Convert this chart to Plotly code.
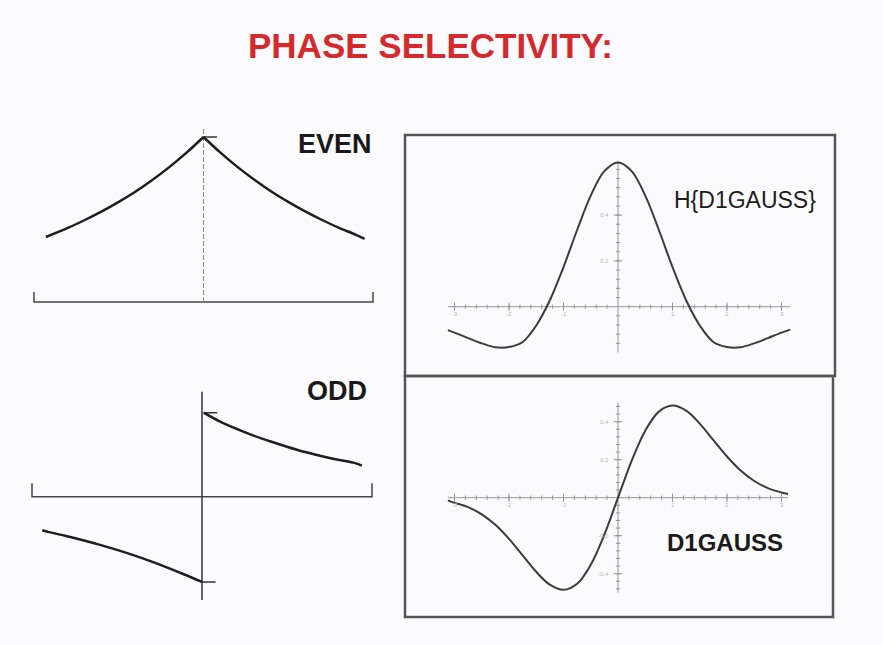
import numpy as np
import plotly.graph_objects as go

W, H = 883, 645

# ---------------- data ----------------
# EVEN: symmetric exponential decay (x normalised to [-1, 1], peak = 1)
even_left_x = [-0.93, -0.8, -0.7, -0.6, -0.5, -0.4, -0.3, -0.2, -0.1, 0.0]
even_left_y = [0.394, 0.449, 0.497, 0.549, 0.607, 0.670, 0.741, 0.819, 0.905, 1.0]
even_right_x = [0.0, 0.1, 0.2, 0.3, 0.4, 0.5, 0.6, 0.7, 0.8, 0.9, 0.95]
even_right_y = [1.0, 0.905, 0.819, 0.741, 0.670, 0.607, 0.549, 0.497, 0.449, 0.407, 0.382]

# ODD: antisymmetric exponential decay
odd_left_x = [-0.94, -0.9, -0.8, -0.7, -0.6, -0.5, -0.4, -0.3, -0.2, -0.1, 0.0]
odd_left_y = [-0.40, -0.422, -0.468, -0.518, -0.573, -0.633, -0.698, -0.769, -0.847, -0.929, -1.015]
odd_right_x = [0.01, 0.1, 0.2, 0.3, 0.4, 0.5, 0.6, 0.7, 0.8, 0.9, 0.94]
odd_right_y = [1.0, 0.90, 0.81, 0.73, 0.66, 0.595, 0.535, 0.485, 0.44, 0.40, 0.37]

# H{D1GAUSS}
hg_x = [-3.12, -3.0, -2.75, -2.5, -2.25, -2.0, -1.75, -1.5, -1.25, -1.0, -0.75, -0.5, -0.25,
        0.0, 0.25, 0.5, 0.75, 1.0, 1.25, 1.5, 1.75, 2.0, 2.25, 2.5, 2.75, 3.0, 3.16]
hg_y = [-0.102, -0.113, -0.137, -0.160, -0.177, -0.176, -0.154, -0.082, 0.028, 0.173, 0.335, 0.485, 0.592,
        0.630, 0.592, 0.485, 0.335, 0.173, 0.028, -0.082, -0.154, -0.176, -0.177, -0.160, -0.137, -0.113, -0.100]

# D1GAUSS
dg_x = [-3.12, -3.0, -2.75, -2.5, -2.25, -2.0, -1.75, -1.5, -1.25, -1.0, -0.75, -0.5, -0.25,
        0.0, 0.25, 0.5, 0.75, 1.0, 1.25, 1.5, 1.75, 2.0, 2.25, 2.5, 2.75, 3.0, 3.12]
dg_y = [-0.014, -0.027, -0.050, -0.088, -0.143, -0.217, -0.303, -0.390, -0.458, -0.485, -0.453, -0.353, -0.194,
        0.0, 0.194, 0.353, 0.453, 0.485, 0.458, 0.390, 0.303, 0.217, 0.143, 0.088, 0.050, 0.027, 0.019]

x_tick_labels = ["-3", "-2", "-1", "", "1", "2", "3"]
x_tick_vals = [-3, -2, -1, 0, 1, 2, 3]
hg_ylab_vals = [0.2, 0.4]
dg_ylab_vals = [-0.4, -0.2, 0.2, 0.4]

# ---------------- layout helpers ----------------
def xdom(c, s, rng):
    return [(c + rng[0] * s) / W, (c + rng[1] * s) / W]

def ydom(c, s, rng):
    return [1 - (c - rng[0] * s) / H, 1 - (c - rng[1] * s) / H]

panels = {
    1: dict(xc=203.5, xs=169.5, xr=[-1.15, 1.15], yc=302, ys=165, yr=[-0.15, 1.2]),
    2: dict(xc=202, xs=170, xr=[-1.15, 1.15], yc=496.7, ys=84, yr=[-1.45, 1.45]),
    3: dict(xc=618, xs=54.5, xr=[-3.5, 3.5], yc=306.7, ys=229, yr=[-0.25, 0.72]),
    4: dict(xc=618, xs=54.5, xr=[-3.5, 3.5], yc=497.7, ys=190, yr=[-0.55, 0.58]),
}

fig = go.Figure()
BLACK = "#1e1e1e"
CURVE = "#3c3c3c"
AXG = "#959595"

def ax(i):
    return ("x" if i == 1 else f"x{i}"), ("y" if i == 1 else f"y{i}")

def line(i, xs, ys, color, width, dash="solid", shape="linear"):
    xa, ya = ax(i)
    fig.add_trace(go.Scatter(x=xs, y=ys, mode="lines", xaxis=xa, yaxis=ya,
                             line=dict(color=color, width=width, dash=dash, shape=shape),
                             hoverinfo="skip", showlegend=False))

def ticks(i, xs, ys, symbol, size, color=AXG):
    xa, ya = ax(i)
    fig.add_trace(go.Scatter(x=xs, y=ys, mode="markers", xaxis=xa, yaxis=ya,
                             marker=dict(symbol=symbol, size=size,
                                         line=dict(color=color, width=1)),
                             hoverinfo="skip", showlegend=False))

# ---- EVEN panel ----
line(1, [-1, -1, 1, 1], [0.06, 0, 0, 0.06], "#444", 1.5)
line(1, [0, 0], [0, 1.055], "#8c8c8c", 1, dash="5px,2px")
line(1, [0, 0.08], [1.0, 1.0], "#333", 1.5)
line(1, even_left_x, even_left_y, BLACK, 2.5, shape="spline")
line(1, even_right_x, even_right_y, BLACK, 2.5, shape="spline")

# ---- ODD panel ----
line(2, [-1, -1, 1, 1], [0.16, 0, 0, 0.16], "#444", 1.5)
line(2, [0, 0], [-1.23, 1.25], "#333", 1.5)
line(2, [0.01, 0.09], [1.0, 1.0], "#333", 1.5)
line(2, [0, 0.08], [-1.015, -1.015], "#333", 1.5)
line(2, odd_left_x, odd_left_y, BLACK, 2.5, shape="spline")
line(2, odd_right_x, odd_right_y, BLACK, 2.5, shape="spline")

# ---- H{D1GAUSS} panel ----
line(3, [-3.12, 3.16], [0, 0], AXG, 1)
line(3, [0, 0], [-0.2, 0.635], AXG, 1)
minor_x = [round(v, 2) for v in np.arange(-3.0, 3.01, 0.2) if abs(v) > 1e-6]
ticks(3, minor_x, [0] * len(minor_x), "line-ns", 3)
ticks(3, [v for v in x_tick_vals if v != 0], [0] * 6, "line-ns", 6)
vy3 = [round(v, 2) for v in np.arange(-0.16, 0.62, 0.04) if abs(v) > 1e-6]
ticks(3, [0] * len(vy3), vy3, "line-ew", 3)
ticks(3, [0, 0], hg_ylab_vals, "line-ew", 6)
line(3, hg_x, hg_y, CURVE, 2, shape="spline")

# ---- D1GAUSS panel ----
line(4, [-3.12, 3.12], [0, 0], AXG, 1)
line(4, [0, 0], [-0.5, 0.5], AXG, 1)
ticks(4, minor_x, [0] * len(minor_x), "line-ns", 3)
ticks(4, [v for v in x_tick_vals if v != 0], [0] * 6, "line-ns", 6)
vy4 = [round(v, 2) for v in np.arange(-0.48, 0.49, 0.04) if abs(v) > 1e-6]
ticks(4, [0] * len(vy4), vy4, "line-ew", 3)
ticks(4, [0] * 4, dg_ylab_vals, "line-ew", 6)
line(4, dg_x, dg_y, CURVE, 2, shape="spline")

# axes
layout_axes = {}
for i, p in panels.items():
    xn = "xaxis" if i == 1 else f"xaxis{i}"
    yn = "yaxis" if i == 1 else f"yaxis{i}"
    layout_axes[xn] = dict(domain=xdom(p["xc"], p["xs"], p["xr"]), range=p["xr"],
                           visible=False, fixedrange=True, anchor=("y" if i == 1 else f"y{i}"))
    layout_axes[yn] = dict(domain=ydom(p["yc"], p["ys"], p["yr"]), range=p["yr"],
                           visible=False, fixedrange=True, anchor=("x" if i == 1 else f"x{i}"))

FONT = "Liberation Sans, Arial, Helvetica, sans-serif"

annotations = []
def ann(text, x, y, size, color="#1a1a1a", xref="paper", yref="paper", xanchor="center", yanchor="middle"):
    annotations.append(dict(text=text, x=x, y=y, xref=xref, yref=yref, showarrow=False,
                            xanchor=xanchor, yanchor=yanchor,
                            font=dict(family=FONT, size=size, color=color)))

ann("<b>PHASE SELECTIVITY:</b>", 430 / W, 1 - 46 / H, 35, color="#d42a2e")
ann("<b>EVEN</b>", 335 / W, 1 - 144 / H, 27)
ann("<b>ODD</b>", 337 / W, 1 - 391 / H, 27)
ann("H{D1GAUSS}", 745 / W, 1 - 200 / H, 23, color="#1c1c1c")
ann("<b>D1GAUSS</b>", 725 / W, 1 - 542 / H, 24)

# tiny axis labels (faint in the original)
for i in (3, 4):
    xa, ya = ax(i)
    for v, t in zip(x_tick_vals, x_tick_labels):
        if t:
            ann(t, v, -0.012, 6, color="#b4b4b4", xref=xa, yref=ya, yanchor="top")
for v in hg_ylab_vals:
    ann(f"{v:.1f}", -0.12, v, 6, color="#b4b4b4", xref="x3", yref="y3", xanchor="right")
for v in dg_ylab_vals:
    ann(f"{v:.1f}", -0.12, v, 6, color="#b4b4b4", xref="x4", yref="y4", xanchor="right")

shapes = [
    dict(type="rect", xref="paper", yref="paper", x0=405 / W, x1=835 / W, y0=1 - 376 / H, y1=1 - 135 / H,
         line=dict(color="#555", width=2.5)),
    dict(type="rect", xref="paper", yref="paper", x0=405 / W, x1=833 / W, y0=1 - 617 / H, y1=1 - 376 / H,
         line=dict(color="#555", width=2.5)),
]

fig.update_layout(width=W, height=H, margin=dict(l=0, r=0, t=0, b=0),
                  paper_bgcolor="#fbfafd", plot_bgcolor="rgba(0,0,0,0)",
                  showlegend=False, annotations=annotations, shapes=shapes,
                  **layout_axes)

fig.write_html("out.html", config={"displayModeBar": False},
               post_script="document.body.style.margin='0px';document.body.style.background='#fbfafd';")
